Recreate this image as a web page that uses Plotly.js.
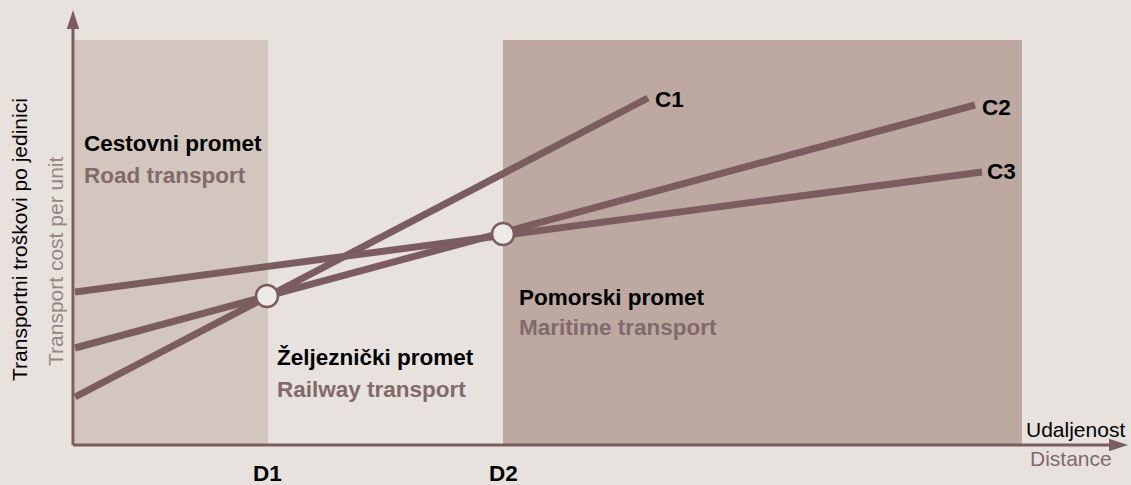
<!DOCTYPE html>
<html>
<head>
<meta charset="utf-8">
<script src="https://cdn.plot.ly/plotly-3.0.1.min.js"></script>
<style>html,body{margin:0;padding:0;background:#e7e2dd;}#chart{width:1131px;height:485px;}</style>
</head>
<body>
<div id="chart"></div>
<script>
// Data (distance vs. transport cost per unit, arbitrary units)
const c1X = [2, 575];
const c1Y = [48, 347];
const c2X = [2, 902];
const c2Y = [97, 340];
const c3X = [2, 909];
const c3Y = [153, 273];
const breakX = [194, 430];       // D1, D2
const breakY = [149, 211];
const breakLabels = ['D1', 'D2'];
const lineLabels = ['C1', 'C2', 'C3'];
const zoneX0 = [2, 430];
const zoneX1 = [195, 949];
const zoneTop = 405;
const axisMaxX = 1055;
const axisMaxY = 435;

const LINE = '#7b5d5f';
const LIGHT = '#82696b';
const FONT = 'Liberation Sans, Arial, sans-serif';

const traces = [
  {x: c1X, y: c1Y, mode: 'lines', line: {color: LINE, width: 7}, hoverinfo: 'skip'},
  {x: c2X, y: c2Y, mode: 'lines', line: {color: LINE, width: 7}, hoverinfo: 'skip'},
  {x: c3X, y: c3Y, mode: 'lines', line: {color: LINE, width: 7}, hoverinfo: 'skip'},
  {x: breakX, y: breakY, mode: 'markers', cliponaxis: false,
   marker: {size: 22, color: '#eeeae6', line: {color: LINE, width: 2.5}}, hoverinfo: 'skip'},
  // axis arrow heads (tip of the 'arrow' symbol sits on the point)
  {x: [axisMaxX, 0], y: [0, axisMaxY], mode: 'markers', cliponaxis: false, hoverinfo: 'skip',
   marker: {symbol: 'arrow', size: 20, angle: [90, 0], color: LINE, line: {width: 0}}}
];

const shapes = [
  {type: 'rect', xref: 'x', yref: 'y', x0: zoneX0[0], x1: zoneX1[0], y0: 0, y1: zoneTop,
   fillcolor: '#d2c6be', line: {width: 0}, layer: 'below'},
  {type: 'rect', xref: 'x', yref: 'y', x0: zoneX0[1], x1: zoneX1[1], y0: 0, y1: zoneTop,
   fillcolor: '#bda9a2', line: {width: 0}, layer: 'below'},
  // axis lines (paper-referenced so they are not clipped at the plot edge)
  {type: 'line', xref: 'paper', yref: 'paper', x0: 0, x1: (axisMaxX - 10) / axisMaxX, y0: 0, y1: 0,
   line: {color: LINE, width: 3}},
  {type: 'line', xref: 'paper', yref: 'paper', x0: 0, x1: 0, y0: 0, y1: (axisMaxY - 10) / axisMaxY,
   line: {color: LINE, width: 3}}
];

// place text in paper coordinates, given in axis units (so it may sit outside the plot area)
function txt(x, y, text, opts) {
  return Object.assign({x: x / axisMaxX, y: y / axisMaxY, xref: 'paper', yref: 'paper',
    text: text, showarrow: false, xanchor: 'left', yanchor: 'middle',
    font: {family: FONT, size: 21, color: '#000'}}, opts || {});
}
const bold = (c) => ({family: FONT, size: 22.5, color: c});

const annotations = [
  // zone labels
  txt(9, 302, '<b>Cestovni promet</b>', {font: bold('#000')}),
  txt(9, 270, '<b>Road transport</b>', {font: bold(LIGHT)}),
  txt(202, 88, '<b>Željeznički promet</b>', {font: bold('#000')}),
  txt(202, 56, '<b>Railway transport</b>', {font: bold(LIGHT)}),
  txt(444, 148, '<b>Pomorski promet</b>', {font: bold('#000')}),
  txt(444, 118, '<b>Maritime transport</b>', {font: bold(LIGHT)}),
  // line labels
  txt(c1X[1] + 5, c1Y[1] - 1, '<b>' + lineLabels[0] + '</b>', {font: bold('#000')}),
  txt(c2X[1] + 5, c2Y[1] - 2, '<b>' + lineLabels[1] + '</b>', {font: bold('#000')}),
  txt(c3X[1] + 3, c3Y[1], '<b>' + lineLabels[2] + '</b>', {font: bold('#000')}),
  // break labels
  txt(breakX[0], -28, '<b>' + breakLabels[0] + '</b>', {xanchor: 'center', font: bold('#000')}),
  txt(breakX[1], -28, '<b>' + breakLabels[1] + '</b>', {xanchor: 'center', font: bold('#000')}),
  // axis titles
  txt(1054, 16, 'Udaljenost', {xanchor: 'right'}),
  txt(998, -13, 'Distance', {xanchor: 'center', font: {family: FONT, size: 21, color: LIGHT}}),
  txt(-54, 205, 'Transportni troškovi po jedinici', {xanchor: 'center', textangle: -90}),
  txt(-18, 183, 'Transport cost per unit', {xanchor: 'center', textangle: -90,
     font: {family: FONT, size: 21, color: '#9a8583'}})
];

const layout = {
  width: 1131, height: 485,
  margin: {l: 73, r: 3, t: 10, b: 40},
  paper_bgcolor: '#e7e2dd', plot_bgcolor: 'rgba(0,0,0,0)',
  showlegend: false,
  xaxis: {range: [0, axisMaxX], visible: false, fixedrange: true},
  yaxis: {range: [0, axisMaxY], visible: false, fixedrange: true},
  shapes: shapes, annotations: annotations
};

Plotly.newPlot('chart', traces, layout, {displayModeBar: false, staticPlot: true});
</script>
</body>
</html>
